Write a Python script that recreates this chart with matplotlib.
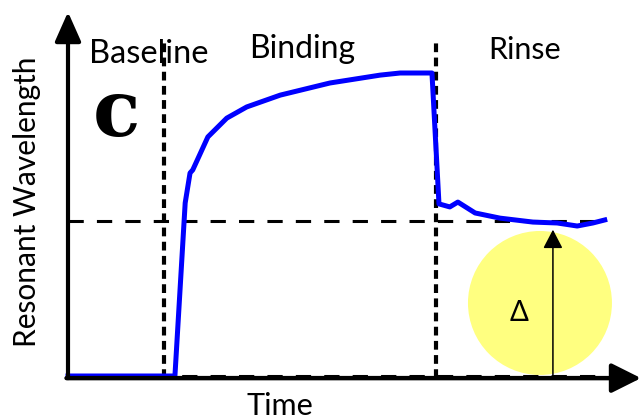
import matplotlib.pyplot as plt
from matplotlib.patches import Ellipse

# === Sensorgram data (arbitrary units) ===
time = [0, 19.8, 21.7, 22.6, 23.1, 25.9, 29.4, 33.1, 39.3, 48.5, 57.8, 61.5, 67.4,
        68.7, 70.7, 72.2, 75.4, 80.0, 86.1, 90.6, 94.3, 97.2, 99.4]
signal = [0, 0, 57.1, 67.0, 68.0, 78.9, 85.1, 88.8, 92.7, 96.7, 99.3, 100, 100,
          56.8, 55.8, 57.4, 53.8, 52.1, 50.8, 50.5, 49.5, 50.5, 51.5]

phase_edges = [17.8, 68.1]          # baseline->binding, binding->rinse
phase_labels = ['Baseline', 'Binding', 'Rinse']
rinse_level = 51.2
delta_time = 89.8

# px <-> data: x_px = 68 + 5.4*t, y_px = 376 - 3.03*s
sx, sy = 5.4, 3.03

fig = plt.figure(figsize=(6.41, 4.20), dpi=100)
ax = fig.add_axes([0, 0, 1, 1])
ax.set_xlim(-68 / sx, (641 - 68) / sx)
ax.set_ylim(-44 / sy, 376 / sy)
ax.axis('off')

font = 'Lato'

# yellow highlight circle + delta arrow
ax.add_patch(Ellipse((87.4, 24.1), 2 * 72 / sx, 2 * 72 / sy,
                     color='#ffff80', lw=0, zorder=1))
ax.annotate('', xy=(delta_time, 49.2), xytext=(delta_time, -0.7),
            arrowprops=dict(arrowstyle='-|>,head_length=1.15,head_width=0.6',
                            mutation_scale=10, lw=1.1, color='k'), zorder=4)
ax.text(83.5, 20.8, 'Δ', fontsize=20, family=font, ha='center', va='center', zorder=5)

# reference dashed lines
ax.plot([0, 99.5], [rinse_level, rinse_level], color='k', lw=2.2,
        dashes=(5, 4.3), zorder=2)
ax.plot([0, 99.5], [0, 0], color='k', lw=2.2, dashes=(5, 4.3), zorder=2)
for xe in phase_edges:
    ax.plot([xe, xe], [-0.7, 336 / sy], color='k', lw=3,
            dashes=(2.1, 1.3), zorder=2)

# signal
ax.plot(time, signal, color='#0000ff', lw=3.6, solid_joinstyle='round', zorder=3)

# axes arrows
ax.annotate('', xy=(0, 364 / sy), xytext=(0, -0.7),
            arrowprops=dict(arrowstyle='-|>,head_length=0.9,head_width=0.4',
                            mutation_scale=20, lw=3, color='k',
                            shrinkA=0, shrinkB=0), zorder=6)
ax.annotate('', xy=(573 / sx, -0.7), xytext=(-1.5 / sx, -0.7),
            arrowprops=dict(arrowstyle='-|>,head_length=0.9,head_width=0.45',
                            mutation_scale=20, lw=3.2, color='k',
                            shrinkA=0, shrinkB=0), zorder=6)

# labels (positions in figure pixels)
W, H = 641, 420
fig.text(148.5 / W, 1 - 63 / H, phase_labels[0], fontsize=23.5, family=font,
         ha='center', va='baseline')
fig.text(302.5 / W, 1 - 58 / H, phase_labels[1], fontsize=23, family=font,
         ha='center', va='baseline')
fig.text(525 / W, 1 - 59 / H, phase_labels[2], fontsize=22, family=font,
         ha='center', va='baseline')
fig.text(279.5 / W, 0.0, 'Time', fontsize=22, family=font,
         ha='center', va='bottom')
fig.text(27 / W, 1 - 202 / H, 'Resonant Wavelength', fontsize=21.5, family=font,
         rotation=90, ha='center', va='center')
fig.text(116 / W, 1 - 136 / H, 'c', fontsize=56, family='DejaVu Serif',
         fontweight='bold', ha='center', va='baseline')

fig.savefig('out.png', dpi=100)
